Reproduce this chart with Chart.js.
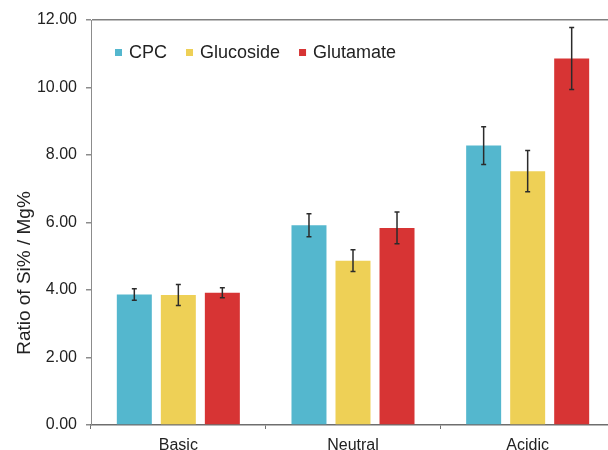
<!DOCTYPE html>
<html lang="en">
<head>
    <meta charset="UTF-8">
    <title>Ratio of Si% / Mg%</title>
    <style>
        body {
            margin: 0;
            padding: 0;
            background: #fff;
            overflow: hidden;
            width: 608px;
            height: 450px;
        }
        canvas { display: block; }
    </style>
</head>
<body>
    <canvas id="ratioChart" width="620" height="450"></canvas>

    <script src="https://cdn.jsdelivr.net/npm/chart.js"></script>
    <script>
        // values
        const categories = ['Basic', 'Neutral', 'Acidic'];
        const cpc = [3.87, 5.92, 8.28];
        const cpcErr = [0.17, 0.34, 0.56];
        const glucoside = [3.85, 4.87, 7.52];
        const glucosideErr = [0.31, 0.32, 0.61];
        const glutamate = [3.92, 5.84, 10.86];
        const glutamateErr = [0.15, 0.47, 0.92];
        const yTicks = [0, 2, 4, 6, 8, 10, 12];

        const font = 'Arial, "Liberation Sans", Helvetica, sans-serif';

        // error bars, placed with the chart's own scales
        const errorBars = {
            id: 'errorBars',
            afterDatasetsDraw(chart) {
                const ctx = chart.ctx;
                const y = chart.scales.y;
                ctx.save();
                ctx.strokeStyle = '#2b2b2b';
                ctx.lineWidth = 1.5;
                chart.data.datasets.forEach((ds, i) => {
                    const meta = chart.getDatasetMeta(i);
                    meta.data.forEach((bar, j) => {
                        const v = ds.data[j], e = ds.errors[j];
                        const top = y.getPixelForValue(v + e);
                        const bot = y.getPixelForValue(v - e);
                        ctx.beginPath();
                        ctx.moveTo(bar.x, top);
                        ctx.lineTo(bar.x, bot);
                        ctx.moveTo(bar.x - 2.5, top);
                        ctx.lineTo(bar.x + 2.5, top);
                        ctx.moveTo(bar.x - 2.5, bot);
                        ctx.lineTo(bar.x + 2.5, bot);
                        ctx.stroke();
                    });
                });
                ctx.restore();
            }
        };

        // legend drawn inside the plot area, in one row
        const innerLegend = {
            id: 'innerLegend',
            afterDraw(chart) {
                const ctx = chart.ctx;
                let x = 115;
                ctx.save();
                ctx.font = '18px ' + font;
                ctx.textBaseline = 'alphabetic';
                chart.data.datasets.forEach(ds => {
                    ctx.fillStyle = ds.backgroundColor;
                    ctx.fillRect(x, 49, 7, 7);
                    ctx.fillStyle = '#222';
                    ctx.fillText(ds.label, x + 14, 57.5);
                    x += 14 + ctx.measureText(ds.label).width + 19;
                });
                ctx.restore();
            }
        };

        // y title sits a bit below the middle of the axis in the original
        const yTitle = {
            id: 'yTitle',
            afterDraw(chart) {
                const ctx = chart.ctx;
                ctx.save();
                ctx.translate(25, 273);
                ctx.rotate(-Math.PI / 2);
                ctx.font = '19px ' + font;
                ctx.fillStyle = '#222';
                ctx.textAlign = 'center';
                ctx.textBaseline = 'middle';
                ctx.fillText('Ratio of Si% / Mg%', 0, 0);
                ctx.restore();
            }
        };

        const ctx = document.getElementById('ratioChart').getContext('2d');
        const ratioChart = new Chart(ctx, {
            type: 'bar',
            data: {
                labels: categories,
                datasets: [
                    { label: 'CPC', data: cpc, errors: cpcErr, backgroundColor: '#54b7ce' },
                    { label: 'Glucoside', data: glucoside, errors: glucosideErr, backgroundColor: '#eed056' },
                    { label: 'Glutamate', data: glutamate, errors: glutamateErr, backgroundColor: '#d73434' }
                ]
            },
            options: {
                responsive: false,
                animation: false,
                devicePixelRatio: 1,
                categoryPercentage: 0.756,
                barPercentage: 0.795,
                layout: { padding: { top: 20, right: 5, left: 0, bottom: 0 } },
                plugins: {
                    legend: { display: false },
                    tooltip: { enabled: false }
                },
                scales: {
                    x: {
                        grid: {
                            offset: true,
                            drawOnChartArea: false,
                            tickLength: 4,
                            tickColor: '#707070'
                        },
                        border: { color: '#6e6e6e', width: 1.5 },
                        ticks: {
                            color: '#222',
                            padding: 7,
                            font: { size: 16, family: font }
                        },
                        afterFit(scale) { scale.height = 25; }
                    },
                    y: {
                        min: 0,
                        max: 12,
                        afterBuildTicks(scale) {
                            scale.ticks = yTicks.map(v => ({ value: v }));
                        },
                        grid: {
                            color: c => (c.tick && c.tick.value === 12) ? '#808080' : 'rgba(0,0,0,0)',
                            lineWidth: 1.5,
                            tickLength: 5,
                            tickColor: '#8c8c8c'
                        },
                        border: { color: '#8c8c8c', width: 1 },
                        ticks: {
                            color: '#222',
                            padding: 9,
                            font: { size: 16, family: font },
                            callback: v => v.toFixed(2)
                        },
                        afterFit(scale) { scale.width = 91; }
                    }
                }
            },
            plugins: [errorBars, innerLegend, yTitle]
        });
    </script>
</body>
</html>
